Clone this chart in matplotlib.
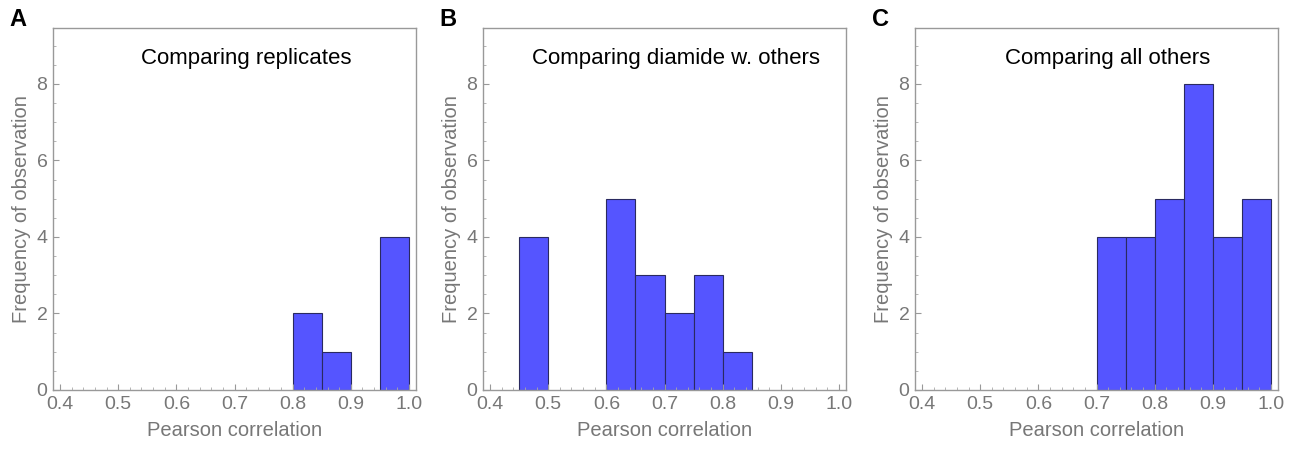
import numpy as np
import matplotlib.pyplot as plt
from matplotlib.ticker import MultipleLocator

# bin left edges (width 0.05) and counts
edges_a = [0.80, 0.85, 0.95]
counts_a = [2, 1, 4]
edges_b = [0.45, 0.60, 0.65, 0.70, 0.75, 0.80]
counts_b = [4, 5, 3, 2, 3, 1]
edges_c = [0.70, 0.75, 0.80, 0.85, 0.90, 0.95]
counts_c = [4, 4, 5, 8, 4, 5]

panels = [
    ("A", "Comparing replicates", edges_a, counts_a),
    ("B", "Comparing diamide w. others", edges_b, counts_b),
    ("C", "Comparing all others", edges_c, counts_c),
]
xticks = [0.4, 0.5, 0.6, 0.7, 0.8, 0.9, 1.0]
xticklabels = ["0.4", "0.5", "0.6", "0.7", "0.8", "0.9", "1.0"]
yticks = [0, 2, 4, 6, 8]

plt.rcParams['font.family'] = ['Liberation Sans', 'DejaVu Sans']

W, H = 1293, 449
fig = plt.figure(figsize=(W / 100, H / 100), dpi=100)

lefts = [53, 483, 915]
grey = "#777777"
for left, (letter, title, edges, counts) in zip(lefts, panels):
    ax = fig.add_axes([left / W, (H - 390) / H, 363 / W, 362 / H])
    ax.bar(edges, counts, width=0.05, align='edge', color='#5555ff',
           edgecolor='#2a2a60', linewidth=0.8)
    ax.set_xlim(0.388, 1.012)
    ax.set_ylim(0, 9.46)
    ax.set_xticks(xticks)
    ax.set_xticklabels(xticklabels)
    ax.set_yticks(yticks)
    ax.xaxis.set_minor_locator(MultipleLocator(0.02))
    ax.yaxis.set_minor_locator(MultipleLocator(0.5))
    ax.tick_params(which='major', direction='in', length=4, width=0.8,
                   color='#999999', labelsize=14, labelcolor=grey, pad=4)
    ax.tick_params(which='minor', direction='in', length=2, width=0.6,
                   color='#aaaaaa')
    ax.tick_params(top=False, right=False, which='both')
    for s in ax.spines.values():
        s.set_color('#999999')
        s.set_linewidth(1.0)
    ax.set_xlabel("Pearson correlation", fontsize=14.5, color=grey, labelpad=6)
    ax.set_ylabel("Frequency of observation", fontsize=14.5, color=grey, labelpad=4)
    ax.text(0.532, 0.915, title, transform=ax.transAxes, ha='center',
            va='center', fontsize=16, color='black')
    fig.text((left - 35) / W, (H - 20) / H, letter, fontsize=17,
             fontweight='bold', ha='center', va='center')

fig.savefig("out.png", dpi=100)
